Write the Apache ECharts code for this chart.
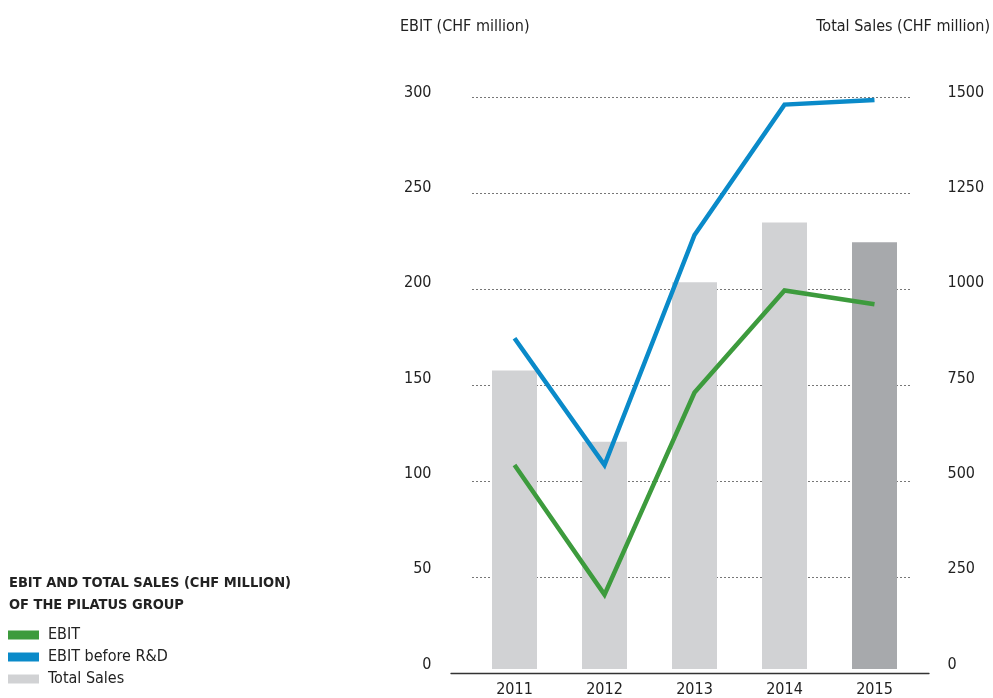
<!DOCTYPE html>
<html>
<head>
<meta charset="utf-8">
<script src="https://cdn.jsdelivr.net/npm/echarts@6/dist/echarts.min.js"></script>
<style>
html,body{margin:0;padding:0;background:#fff;}
#c{width:993px;height:698px;}
</style>
</head>
<body>
<div id="c"></div>
<script>
var years = ['2011', '2012', '2013', '2014', '2015'];
var ebit = [107, 39, 145, 198.5, 191.3];
var ebitBeforeRD = [173.5, 107, 227.6, 296, 298.4];
var totalSales = [783, 596, 1014, 1171, 1119];
var leftTicks = [0, 300, 50];
var rightTicks = [0, 1500, 250];

var FONT = '"Liberation Sans Narrow", "DejaVu Sans Condensed", "Liberation Sans", sans-serif';
var TXT = '#222';

var chart = echarts.init(document.getElementById('c'), null, {renderer: 'canvas'});

var salesData = totalSales.map(function (v, i) {
  if (i === totalSales.length - 1) {
    return {value: v, itemStyle: {color: '#a7a9ac'}};
  }
  return v;
});

var option = {
  backgroundColor: '#fff',
  animation: false,
  textStyle: {fontFamily: FONT},
  title: [
    {text: 'EBIT (CHF million)', left: 400, top: 18, padding: 0,
     textStyle: {fontFamily: FONT, fontWeight: 'normal', fontSize: 16, lineHeight: 18, color: TXT}},
    {text: 'Total Sales (CHF million)', right: 3, top: 18, padding: 0,
     textStyle: {fontFamily: FONT, fontWeight: 'normal', fontSize: 16, lineHeight: 18, color: TXT}},
    {text: 'EBIT AND TOTAL SALES (CHF MILLION)\nOF THE PILATUS GROUP', left: 9, top: 572, padding: 0,
     textStyle: {fontFamily: FONT, fontWeight: 'bold', fontSize: 14.5, lineHeight: 22, color: TXT}}
  ],
  legend: {
    orient: 'vertical',
    left: 8,
    top: 626,
    padding: 0,
    itemWidth: 31,
    itemHeight: 9,
    itemGap: 4,
    icon: 'rect',
    textStyle: {fontFamily: FONT, fontSize: 16, lineHeight: 18, color: TXT, padding: [0, 0, 0, 4]},
    data: ['EBIT', 'EBIT before R&D', 'Total Sales']
  },
  grid: [
    {left: 469.5, width: 450, top: 97, height: 576},
    {left: 472, width: 438, top: 97, height: 576},
    {left: 451, width: 478, top: 97, height: 576}
  ],
  xAxis: [
    {type: 'category', gridIndex: 0, data: years, boundaryGap: true,
     axisLine: {show: false}, axisTick: {show: false},
     axisLabel: {fontFamily: FONT, fontSize: 16, color: TXT, margin: 13}},
    {type: 'value', gridIndex: 1, show: false, min: 0, max: 1},
    {type: 'category', gridIndex: 2, data: years, boundaryGap: true,
     axisLine: {show: true, lineStyle: {color: '#333', width: 1.3}},
     axisTick: {show: false}, axisLabel: {show: false}}
  ],
  yAxis: [
    {type: 'value', gridIndex: 0, min: leftTicks[0], max: leftTicks[1], interval: leftTicks[2],
     axisLine: {show: false}, axisTick: {show: false}, splitLine: {show: false},
     axisLabel: {fontFamily: FONT, fontSize: 16, color: TXT, margin: 38, verticalAlign: 'bottom', lineHeight: 9}},
    {type: 'value', gridIndex: 0, position: 'right', min: rightTicks[0], max: rightTicks[1], interval: rightTicks[2],
     axisLine: {show: false}, axisTick: {show: false}, splitLine: {show: false},
     axisLabel: {fontFamily: FONT, fontSize: 16, color: TXT, margin: 28, verticalAlign: 'bottom', lineHeight: 9,
       formatter: function (v) { return String(v); }}},
    {type: 'value', gridIndex: 1, min: leftTicks[0], max: leftTicks[1], interval: leftTicks[2],
     axisLine: {show: false}, axisTick: {show: false}, axisLabel: {show: false},
     splitLine: {show: true, lineStyle: {color: '#777', type: [2, 2], width: 1}}},
    {type: 'value', gridIndex: 2, min: 0, max: 1, show: false}
  ],
  series: [
    {name: 'Total Sales', type: 'bar', xAxisIndex: 0, yAxisIndex: 1, data: salesData,
     barWidth: 45, itemStyle: {color: '#d1d2d4'}, z: 1},
    {name: 'EBIT', type: 'line', xAxisIndex: 0, yAxisIndex: 0, data: ebit,
     showSymbol: false, symbol: 'none', color: '#3d9b3d',
     lineStyle: {color: '#3d9b3d', width: 4.5, join: 'miter', cap: 'butt'}, z: 5},
    {name: 'EBIT before R&D', type: 'line', xAxisIndex: 0, yAxisIndex: 0, data: ebitBeforeRD,
     showSymbol: false, symbol: 'none', color: '#0a8ac9',
     lineStyle: {color: '#0a8ac9', width: 4.5, join: 'miter', cap: 'butt'}, z: 6}
  ]
};
chart.setOption(option);
</script>
</body>
</html>
